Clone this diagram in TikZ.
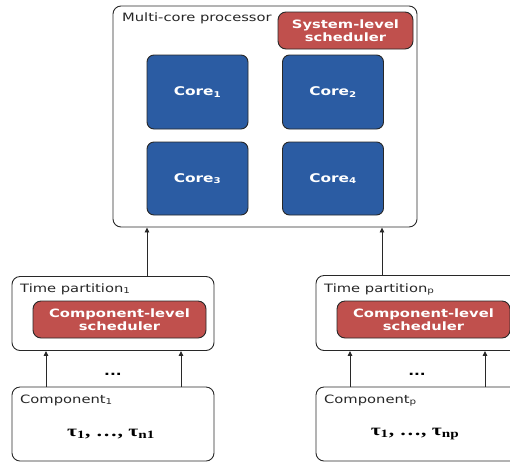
\documentclass[tikz,border=0pt]{standalone}
\usepackage{fontspec}
\setmainfont{DejaVu Sans}[FakeStretch=1.28]
\newfontfamily\taufont{Liberation Serif}[FakeStretch=1.35]
\usetikzlibrary{arrows.meta}
\definecolor{schedred}{RGB}{192,80,77}
\definecolor{coreblue}{RGB}{43,92,163}
\definecolor{edge}{RGB}{40,40,40}
\tikzset{
  frame/.style={draw=edge, line width=0.9pt, rounded corners=8pt, fill=white, inner sep=0pt},
  redbox/.style={draw=edge, line width=0.9pt, rounded corners=8pt, fill=schedred, inner sep=0pt,
    text=white, font=\fontsize{11.5}{12.5}\selectfont\bfseries, align=center},
  corebox/.style={draw=edge, line width=0.9pt, rounded corners=7pt, fill=coreblue, inner sep=0pt,
    text=white, font=\fontsize{12}{13}\selectfont\bfseries, minimum width=101pt, minimum height=74pt},
  caption/.style={anchor=base west, inner sep=0pt, text=black!85, font=\fontsize{11.5}{12}\selectfont},
  tasks/.style={inner sep=0pt, font=\fontsize{16}{17}\selectfont\taufont\bfseries},
  dots/.style={inner sep=0pt, font=\fontsize{12}{12}\selectfont\bfseries},
  arr/.style={-{Triangle[length=5pt,width=4.5pt]}, draw=edge, line width=0.9pt}
}
\begin{document}
\begin{tikzpicture}[x=1pt,y=-1pt]
\useasboundingbox (0,0) rectangle (510,461);
\clip (0,0) rectangle (510,461);

% processor with its scheduler and cores
\node[frame, minimum width=304pt, minimum height=221pt] (proc) at (265,116.5) {};
\node[caption] (proclabel) at (122,21) {Multi-core processor};
\node[redbox, minimum width=135pt, minimum height=37pt] (sys) at (345.5,30.5) {System-level\\scheduler};
\node[corebox] (c1) at (197.5,92) {Core\textsubscript{1}};
\node[corebox] (c2) at (333,92) {Core\textsubscript{2}};
\node[corebox, minimum height=73pt] (c3) at (197.5,178.5) {Core\textsubscript{3}};
\node[corebox, minimum height=73pt] (c4) at (333,178.5) {Core\textsubscript{4}};

% first time partition and its component
\node[frame, minimum width=202pt, minimum height=74pt] (tp1) at (113,313.5) {};
\node[caption] (tp1label) at (20,292) {Time partition\textsubscript{1}};
\node[redbox, minimum width=173pt, minimum height=37pt] (cs1) at (119.5,319.5) {Component-level\\scheduler};
\node[frame, minimum width=202pt, minimum height=74pt] (comp1) at (113,424) {};
\node[caption] (comp1label) at (20,403) {Component\textsubscript{1}};
\node[tasks] (tau1) at (111,434) {τ\textsubscript{1}, …, τ\textsubscript{n1}};
\node[dots] (dots1) at (113,374) {...};

% last time partition and its component
\node[frame, minimum width=202pt, minimum height=75pt] (tpp) at (417,313) {};
\node[caption] (tpplabel) at (324,292) {Time partition\textsubscript{p}};
\node[redbox, minimum width=173pt, minimum height=37pt] (csp) at (423.5,319.5) {Component-level\\scheduler};
\node[frame, minimum width=202pt, minimum height=74pt] (compp) at (417,424) {};
\node[caption] (compplabel) at (324,403) {Component\textsubscript{p}};
\node[tasks] (taup) at (415,434) {τ\textsubscript{1}, …, τ\textsubscript{np}};
\node[dots] (dotsp) at (417,374) {...};

% connectors
\draw[arr] ([xshift=34pt]tp1.north) -- ([xshift=34pt]tp1.north |- proc.south);
\draw[arr] ([xshift=-35pt]tpp.north) -- ([xshift=-35pt]tpp.north |- proc.south);
\draw[arr] ([xshift=-67pt]comp1.north) -- ([xshift=-67pt]comp1.north |- tp1.south);
\draw[arr] ([xshift=68pt]comp1.north) -- ([xshift=68pt]comp1.north |- tp1.south);
\draw[arr] ([xshift=-67pt]compp.north) -- ([xshift=-67pt]compp.north |- tpp.south);
\draw[arr] ([xshift=68pt]compp.north) -- ([xshift=68pt]compp.north |- tpp.south);
\end{tikzpicture}
\end{document}
